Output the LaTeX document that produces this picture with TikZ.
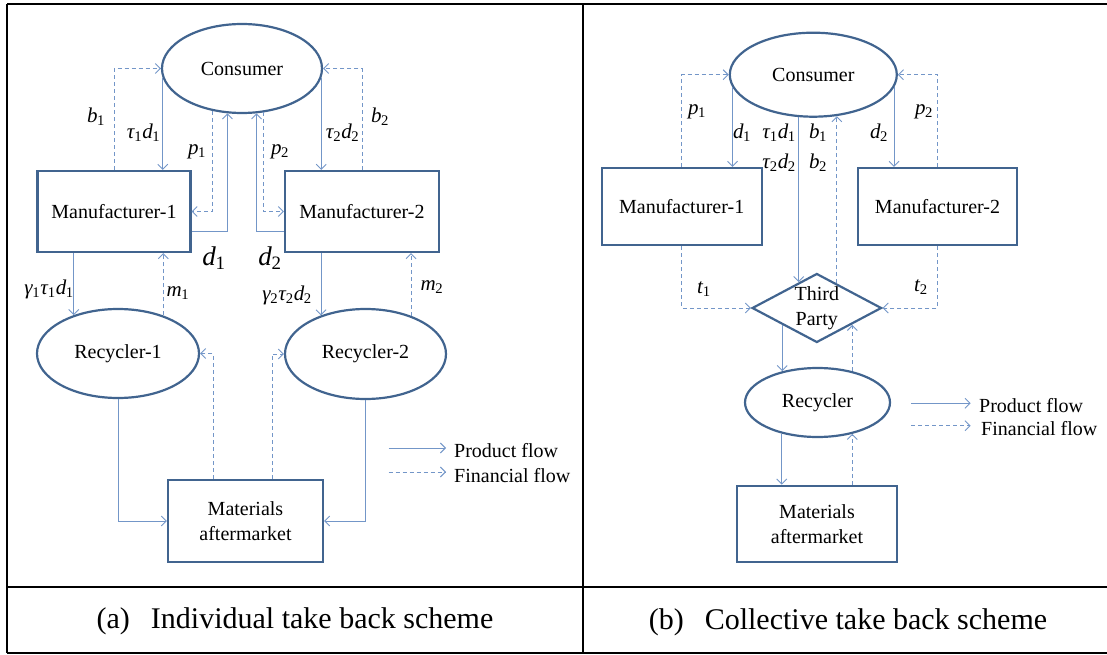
\documentclass[tikz,border=0pt]{standalone}
\usepackage{fontspec}
\setmainfont{Liberation Serif}
\usetikzlibrary{arrows.meta,shapes.geometric}
\definecolor{nodeblue}{HTML}{41648F}
\definecolor{flowblue}{HTML}{7396C8}
\newcommand{\vv}[2]{\textit{#1}\kern-0.5pt\textsubscript{#2}}
\begin{document}
\begin{tikzpicture}[x=1pt,y=-1pt,
  box/.style={rectangle, draw=nodeblue, line width=2.2pt, inner sep=0pt, align=center, font=\fontsize{20}{25}\selectfont},
  ell/.style={ellipse, draw=nodeblue, line width=2.2pt, inner sep=0pt, font=\fontsize{20}{25}\selectfont},
  dia/.style={diamond, aspect=1.88, draw=nodeblue, line width=2.2pt, inner sep=0pt, align=center, font=\fontsize{20}{25}\selectfont},
  prod/.style={draw=flowblue, line width=0.9pt, -{Straight Barb[length=5pt,width=10pt]}},
  fin/.style={prod, dash pattern=on 4pt off 3pt},
  lbl/.style={inner sep=0pt, font=\fontsize{21}{25}\selectfont},
  big/.style={inner sep=0pt, font=\fontsize{27}{30}\selectfont},
  leg/.style={inner sep=0pt, anchor=west, font=\fontsize{20}{24}\selectfont},
  captxt/.style={inner sep=0pt, font=\fontsize{30}{34}\selectfont},
  tframe/.style={line width=2.5pt, draw=black}
]
\useasboundingbox (0,0) rectangle (1107,655);
% table frame
\draw[tframe] (7,4) -- (1112,4);
\draw[tframe] (7,587) -- (1112,587);
\draw[tframe] (7,653) -- (1112,653);
\draw[tframe] (7,4) -- (7,653);
\draw[tframe] (583,4) -- (583,653);
\node[captxt] (capA) at (295,621) {(a)\hspace{0.45em} Individual take back scheme};
\node[captxt] (capB) at (848,622) {(b)\hspace{0.45em} Collective take back scheme};

% ---------------- left panel ----------------
\node[ell, minimum width=160, minimum height=89] (C1) at (242,68.5) {Consumer};
\node[box, minimum width=153, minimum height=81] (M1) at (114,211.5) {Manufacturer-1};
\node[box, minimum width=154, minimum height=81] (M2) at (362,211.5) {Manufacturer-2};
\node[ell, minimum width=162, minimum height=89] (R1) at (118,353.5) {Recycler-1};
\node[ell, minimum width=161, minimum height=90] (R2) at (365.5,354) {Recycler-2};
\node[box, minimum width=155, minimum height=82] (MA) at (245.5,521) {Materials\\aftermarket};

\draw[fin] (M1.north) |- (C1.west);
\draw[prod] (C1.187) -- (C1.187 |- M1.north);
\draw[fin] (C1.235) |- (M1.east);
\draw[prod] ([yshift=-20pt]M1.east) -| (C1.252);
\draw[prod] ([yshift=-20pt]M2.west) -| (C1.288);
\draw[fin] (C1.296) |- (M2.west);
\draw[prod] (C1.353) -- (C1.353 |- M2.north);
\draw[fin] (M2.north) |- (C1.east);

\draw[prod] (R1.139 |- M1.south) -- (R1.139);
\draw[fin] (R1.40) -- (R1.40 |- M1.south);
\draw[prod] (R2.139 |- M2.south) -- (R2.139);
\draw[fin] (R2.40) -- (R2.40 |- M2.south);

\draw[prod] (R1.south) |- (MA.west);
\draw[prod] (R2.south) |- (MA.east);
\draw[fin] ([xshift=-32.5pt]MA.north) |- (R1.east);
\draw[fin] ([xshift=26.5pt]MA.north) |- (R2.west);

\node[lbl] (lb1) at (96,117) {\vv{b}{1}};
\node[lbl] (ltd1) at (143.5,133) {\vv{τ}{1}\vv{d}{1}};
\node[lbl] (lp1) at (197,152) {\vv{p}{1}};
\node[big] (ld1) at (214,258) {\vv{d}{1}};
\node[big] (ld2) at (270,258) {\vv{d}{2}};
\node[lbl] (lp2) at (280,152) {\vv{p}{2}};
\node[lbl] (ltd2) at (342.5,133) {\vv{τ}{2}\vv{d}{2}};
\node[lbl] (lb2) at (380,117) {\vv{b}{2}};
\node[lbl] (lg1) at (49,289) {\vv{γ}{1}\vv{τ}{1}\vv{d}{1}};
\node[lbl] (lm1) at (178,293) {\vv{m}{1}};
\node[lbl] (lg2) at (287,295) {\vv{γ}{2}\vv{τ}{2}\vv{d}{2}};
\node[lbl] (lm2) at (432,287) {\vv{m}{2}};

\coordinate (La1) at (388.5,448);
\coordinate (La2) at (446,448);
\coordinate (La3) at (388.5,472);
\coordinate (La4) at (446,472);
\draw[prod] (La1) -- (La2);
\draw[fin] (La3) -- (La4);
\node[leg] (lega1) at (454,451) {Product flow};
\node[leg] (lega2) at (454,476) {Financial flow};

% ---------------- right panel ----------------
\node[ell, minimum width=167, minimum height=84] (C2) at (813.3,74.7) {Consumer};
\node[box, minimum width=160, minimum height=77] (N1) at (681.7,206.5) {Manufacturer-1};
\node[box, minimum width=159, minimum height=77] (N2) at (937.5,206.5) {Manufacturer-2};
\node[dia, minimum width=129.5, minimum height=69] (TP) at (816.8,308) {Third\\Party};
\node[ell, minimum width=145, minimum height=69] (RC) at (817.5,402.5) {Recycler};
\node[box, minimum width=160, minimum height=76] (MB) at (817,523.7) {Materials\\aftermarket};

\draw[fin] (N1.north) |- (C2.west);
\draw[prod] (C2.189) -- (C2.189 |- N1.north);
\draw[prod] (C2.351) -- (C2.351 |- N2.north);
\draw[fin] (N2.north) |- (C2.east);
\draw[prod] (C2.251) -- (C2.251 |- TP.125.5);
\draw[fin] (TP.51.7) -- (TP.51.7 |- C2.299.3);
\draw[fin] (N1.south) |- (TP.west);
\draw[fin] (N2.south) |- (TP.east);
\draw[prod] (TP.206.6) -- (TP.206.6 |- RC.138.3);
\draw[fin] (RC.42.4) -- (RC.42.4 |- TP.334.5);
\draw[prod] (RC.221.7) -- (RC.221.7 |- MB.north);
\draw[fin] (RC.318.3 |- MB.north) -- (RC.318.3);

\node[lbl] (rp1) at (697,112) {\vv{p}{1}};
\node[lbl] (rd1) at (742,133) {\vv{d}{1}};
\node[lbl] (rtd1) at (779,133) {\vv{τ}{1}\vv{d}{1}};
\node[lbl] (rtd2) at (779,163) {\vv{τ}{2}\vv{d}{2}};
\node[lbl] (rb1) at (818,133) {\vv{b}{1}};
\node[lbl] (rb2) at (818,163) {\vv{b}{2}};
\node[lbl] (rd2) at (879,133) {\vv{d}{2}};
\node[lbl] (rp2) at (924,112) {\vv{p}{2}};
\node[lbl] (rt1) at (704,289) {\vv{t}{1}};
\node[lbl] (rt2) at (921,287) {\vv{t}{2}};

\coordinate (Lb1) at (911,403.3);
\coordinate (Lb2) at (970.6,403.3);
\coordinate (Lb3) at (911,425.7);
\coordinate (Lb4) at (970.6,425.7);
\draw[prod] (Lb1) -- (Lb2);
\draw[fin] (Lb3) -- (Lb4);
\node[leg] (legb1) at (979,405.5) {Product flow};
\node[leg] (legb2) at (981,429) {Financial flow};
\end{tikzpicture}
\end{document}
